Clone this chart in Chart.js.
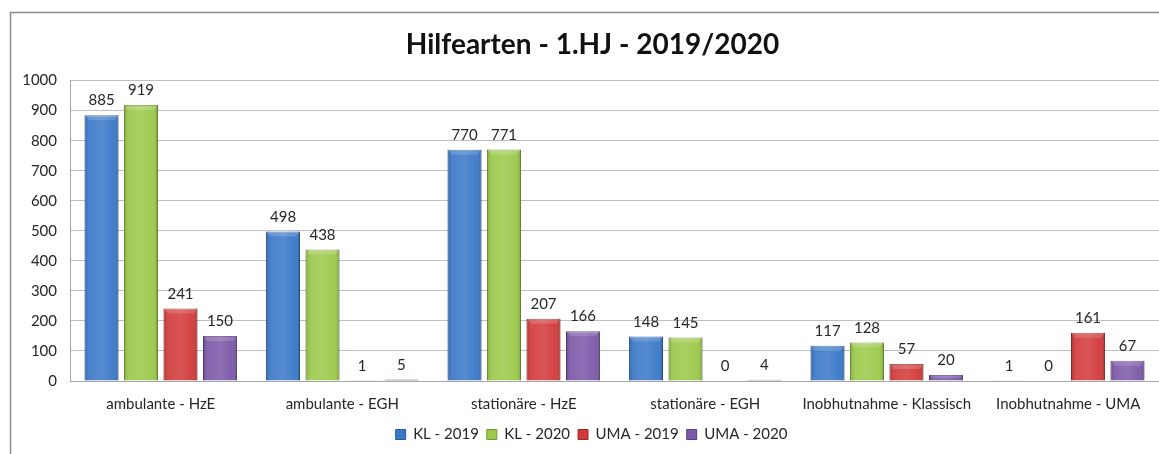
<!DOCTYPE html>
<html>
<head>
<meta charset="utf-8">
<script src="https://cdn.jsdelivr.net/npm/chart.js@4/dist/chart.umd.min.js"></script>
<style>
  html,body{margin:0;padding:0;background:#fff;}
  #wrap{width:1159px;height:454px;}
</style>
</head>
<body>
<div id="wrap"><canvas id="c" width="1159" height="454"></canvas></div>
<script>
const categories = ['ambulante - HzE','ambulante - EGH','stationäre - HzE','stationäre - EGH','Inobhutnahme - Klassisch','Inobhutnahme - UMA'];
const kl2019  = [885, 498, 770, 148, 117, 1];
const kl2020  = [919, 438, 771, 145, 128, 0];
const uma2019 = [241, 1, 207, 0, 57, 161];
const uma2020 = [150, 5, 166, 4, 20, 67];
const yTicks = [0,100,200,300,400,500,600,700,800,900,1000];

const FONT = 'Lato, "Open Sans", sans-serif';

// frame round the whole chart + nudge title/legend like the original
const framePlugin = {
  id:'frame',
  afterLayout(chart){
    if (chart.titleBlock){ chart.titleBlock.left += 4; chart.titleBlock.right += 4; }
    if (chart.legend){ chart.legend.left += 3; chart.legend.right += 3; }
  },
  beforeDraw(chart){
    const c = chart.ctx;
    c.save();
    c.strokeStyle = '#8c8c8c'; c.lineWidth = 1.5;
    c.strokeRect(10.5, 12.5, 1200, 600);
    c.restore();
  }
};

// bevel look + value labels
const barLook = {
  id:'barLook',
  afterDatasetsDraw(chart){
    const c = chart.ctx;
    chart.data.datasets.forEach((ds,di)=>{
      const meta = chart.getDatasetMeta(di);
      meta.data.forEach((bar,i)=>{
        const {x,y,base,width} = bar.getProps(['x','y','base','width'], true);
        const l = x - width/2, h = base - y;
        if (h > 2){
          c.save();
          const g = c.createLinearGradient(l,0,l+width,0);
          g.addColorStop(0,'rgba(0,0,0,0.18)');
          g.addColorStop(0.15,'rgba(255,255,255,0.08)');
          g.addColorStop(0.5,'rgba(255,255,255,0.14)');
          g.addColorStop(0.85,'rgba(255,255,255,0.04)');
          g.addColorStop(1,'rgba(0,0,0,0.22)');
          c.fillStyle = g;
          c.fillRect(l, y, width, h);
          const t = Math.min(5, h/2);
          c.fillStyle = 'rgba(255,255,255,0.16)';
          c.beginPath();
          c.moveTo(l, y); c.lineTo(l+width, y); c.lineTo(l+width-4, y+t); c.lineTo(l+4, y+t); c.closePath();
          c.fill();
          c.restore();
        }
        c.save();
        c.fillStyle = '#262626';
        c.font = '15px ' + FONT;
        c.textAlign = 'center';
        c.textBaseline = 'bottom';
        c.fillText(String(ds.data[i]), x, y - 7);
        c.restore();
      });
    });
  }
};

const mk = (label, data, color, border) => ({
  label, data,
  backgroundColor: color,
  borderColor: border,
  borderWidth: 1,
  barPercentage: 0.86,
  categoryPercentage: 0.87
});

new Chart(document.getElementById('c'), {
  type:'bar',
  data:{
    labels: categories,
    datasets:[
      mk('KL - 2019', kl2019, '#3a78c8', '#2b5b99'),
      mk('KL - 2020', kl2020, '#9bc94a', '#739a33'),
      mk('UMA - 2019', uma2019, '#d23a3a', '#9e2a2a'),
      mk('UMA - 2020', uma2020, '#7c58a8', '#5b3f80')
    ]
  },
  options:{
    responsive:false,
    animation:false,
    layout:{ padding:{ left:10, top:19, right:-8, bottom:2 } },
    plugins:{
      title:{
        display:true,
        text:'Hilfearten - 1.HJ - 2019/2020',
        color:'#111',
        font:{ family:FONT, size:28, weight:'bold' },
        padding:{ top:9, bottom:19 }
      },
      legend:{
        position:'bottom',
        labels:{
          color:'#262626',
          font:{ family:FONT, size:15 },
          boxWidth:10, boxHeight:10,
          padding:8
        }
      },
      tooltip:{ enabled:false }
    },
    scales:{
      x:{
        grid:{ display:true, drawOnChartArea:false, drawTicks:true, tickLength:14, color:'rgba(0,0,0,0)' },
        border:{ display:true, color:'#a6a6a6' },
        ticks:{ color:'#262626', font:{ family:FONT, size:15 }, padding:0, maxRotation:0, autoSkip:false },
        afterFit(s){ s.height = 38; }
      },
      y:{
        min:0, max:1000,
        afterBuildTicks(s){ s.ticks = yTicks.map(v=>({value:v})); },
        grid:{ color:'#bfbfbf', drawTicks:false },
        border:{ display:true, color:'#a6a6a6' },
        ticks:{ color:'#262626', font:{ family:FONT, size:15 }, padding:13, callback:v=>String(v) },
        afterFit(s){ s.width = 60; }
      }
    }
  },
  plugins:[framePlugin, barLook]
});
</script>
</body>
</html>
